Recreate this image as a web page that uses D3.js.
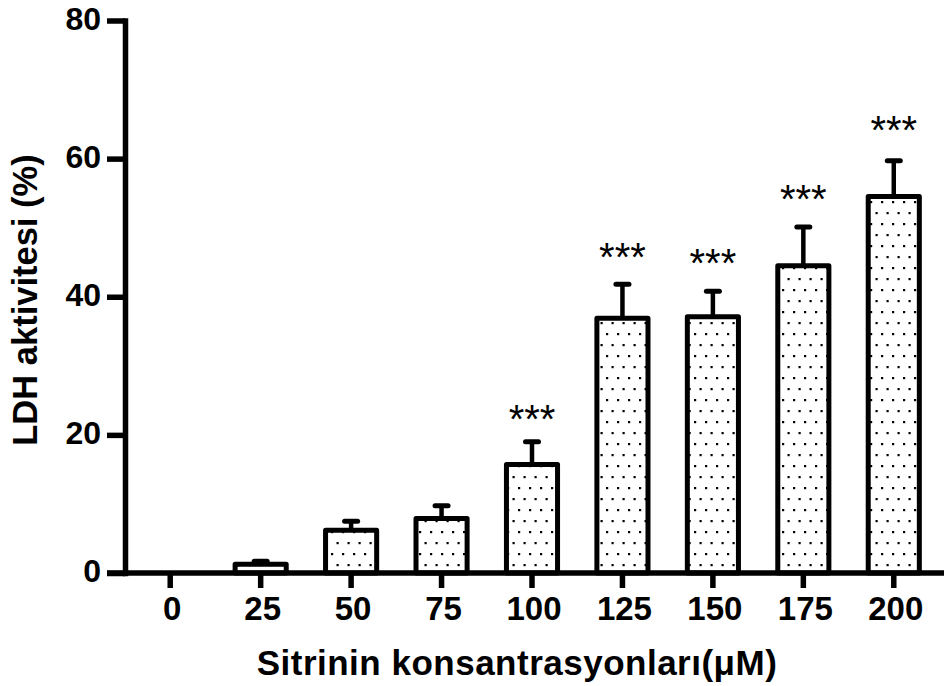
<!DOCTYPE html>
<html>
<head>
<meta charset="utf-8">
<script src="https://cdn.jsdelivr.net/npm/d3@7"></script>
<style>
  html, body { margin: 0; padding: 0; background: #fff; }
  svg { display: block; }
</style>
</head>
<body>
<svg id="chart" width="944" height="686"></svg>
<script>
// ---- data ----
const categories = ["0", "25", "50", "75", "100", "125", "150", "175", "200"];
const meanValues = [0, 1.25, 6.2, 7.9, 15.7, 36.9, 37.1, 44.5, 54.5];
const errorValues = [0, 0.45, 1.3, 1.85, 3.3, 4.9, 3.7, 5.6, 5.2];
const significance = ["", "", "", "", "***", "***", "***", "***", "***"];
const starLevels = [0, 0, 0, 0, 22.9, 46.4, 45.4, 54.7, 64.7];
const yTicks = [0, 20, 40, 60, 80];
const xTitle = "Sitrinin konsantrasyonları(μM)";
const yTitle = "LDH aktivitesi (%)";

// ---- layout ----
const W = 944, H = 686;
const mLeft = 125, mRight = 939, mTop = 20.5, mBottom = 573;
const svg = d3.select("#chart");

const defs = svg.append("defs");
const pat = defs.append("pattern")
  .attr("id", "dots").attr("patternUnits", "userSpaceOnUse")
  .attr("width", 11).attr("height", 22);
pat.append("rect").attr("width", 11).attr("height", 22).attr("fill", "#fff");
pat.append("rect").attr("x", 1).attr("y", 3).attr("width", 2.2).attr("height", 2.2).attr("fill", "#000");
pat.append("rect").attr("x", 6.5).attr("y", 14).attr("width", 2.2).attr("height", 2.2).attr("fill", "#000");

const x = d3.scaleBand().domain(categories).range([mLeft, mRight]).paddingInner(0.435).paddingOuter(0.2175);
const y = d3.scaleLinear().domain([0, 80]).range([mBottom, mTop]);

const data = categories.map((c, i) => ({ c, v: meanValues[i], e: errorValues[i], s: significance[i], sl: starLevels[i] }));

// bars
const bw = x.bandwidth();
svg.append("g").selectAll("rect").data(data.filter(d => d.v > 0)).join("rect")
  .attr("x", d => x(d.c))
  .attr("y", d => y(d.v))
  .attr("width", bw)
  .attr("height", d => y(0) - y(d.v))
  .attr("fill", "url(#dots)")
  .attr("stroke", "#000")
  .attr("stroke-width", 5)
  .attr("stroke-linejoin", "round");

// error bars
const eg = svg.append("g").attr("stroke", "#000");
eg.selectAll("line.stem").data(data.filter(d => d.e > 0)).join("line")
  .attr("class", "stem")
  .attr("x1", d => x(d.c) + bw / 2).attr("x2", d => x(d.c) + bw / 2)
  .attr("y1", d => y(d.v)).attr("y2", d => y(d.v + d.e))
  .attr("stroke-width", 4.5);
eg.selectAll("line.cap").data(data.filter(d => d.e > 0)).join("line")
  .attr("class", "cap")
  .attr("x1", d => x(d.c) + bw / 2 - 6.5).attr("x2", d => x(d.c) + bw / 2 + 6.5)
  .attr("y1", d => y(d.v + d.e)).attr("y2", d => y(d.v + d.e))
  .attr("stroke-width", 5).attr("stroke-linecap", "round");

// significance stars
svg.append("g").selectAll("text").data(data.filter(d => d.s)).join("text")
  .attr("x", d => x(d.c) + bw / 2)
  .attr("y", d => y(d.sl) + 18)
  .attr("text-anchor", "middle")
  .attr("font-family", "Liberation Sans, Arial, sans-serif")
  .attr("font-size", 40)
  .attr("fill", "#000")
  .text(d => d.s);

// y axis
const yAxis = svg.append("g").attr("transform", `translate(${mLeft},0)`)
  .call(d3.axisLeft(y).tickValues(yTicks).tickSize(18).tickSizeOuter(0).tickPadding(6));
yAxis.select(".domain").attr("stroke-width", 5.5).attr("stroke-linecap", "square");
yAxis.selectAll(".tick line").attr("stroke-width", 5.5);
yAxis.selectAll(".tick text")
  .attr("font-family", "Liberation Sans, Arial, sans-serif")
  .attr("font-weight", "bold").attr("font-size", 32).attr("fill", "#000")
  .attr("dy", "0.28em");

// x axis
const xAxis = svg.append("g").attr("transform", `translate(0,${mBottom})`)
  .call(d3.axisBottom(x).tickSize(15).tickSizeOuter(0).tickPadding(9));
xAxis.select(".domain").attr("d", `M${mLeft - 18},0H${W}`).attr("stroke-width", 5.5);
xAxis.selectAll(".tick line").attr("stroke-width", 5.5);
xAxis.selectAll(".tick text")
  .attr("font-family", "Liberation Sans, Arial, sans-serif")
  .attr("font-weight", "bold").attr("font-size", 33).attr("fill", "#000")
  .attr("dx", 2);

// axis titles
svg.append("text")
  .attr("x", 517).attr("y", 675)
  .attr("text-anchor", "middle")
  .attr("font-family", "Liberation Sans, Arial, sans-serif")
  .attr("font-weight", "bold").attr("font-size", 35).attr("fill", "#000")
  .attr("letter-spacing", 0.5)
  .text(xTitle);

svg.append("text")
  .attr("transform", "translate(37,300) rotate(-90)")
  .attr("text-anchor", "middle")
  .attr("font-family", "Liberation Sans, Arial, sans-serif")
  .attr("font-weight", "bold").attr("font-size", 34.5).attr("fill", "#000")
  .text(yTitle);
</script>
</body>
</html>
